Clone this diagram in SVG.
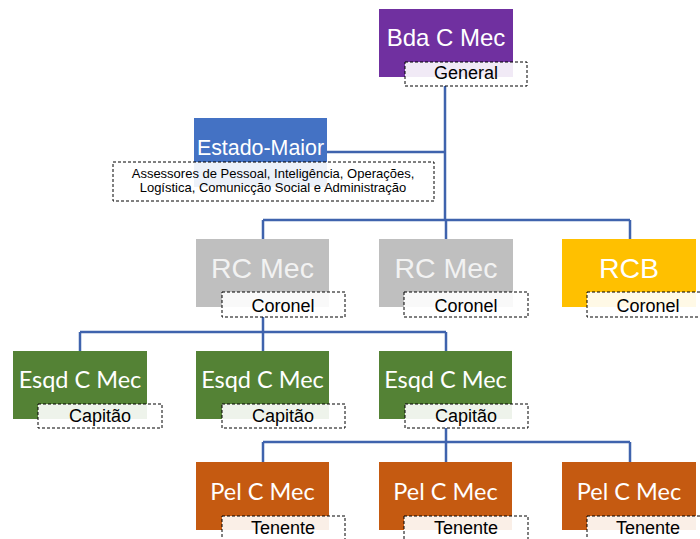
<svg xmlns="http://www.w3.org/2000/svg" width="700" height="539" viewBox="0 0 700 539">
<style>
.lbl{fill:#fff;fill-opacity:0.9;stroke:#000;stroke-width:1;stroke-dasharray:3,2}
.t{font-family:"Liberation Sans",Arial,sans-serif;text-anchor:middle}
.tw{fill:#fff}
.tl{font-family:Lato,"Liberation Sans",sans-serif;text-anchor:middle;fill:#fff;font-size:23.5px}
.lt{font-family:"Liberation Sans",Arial,sans-serif;text-anchor:middle;fill:#000;font-size:18px}
.con{stroke:#3f63ad;stroke-width:2.5;fill:none}
</style>
<rect width="700" height="539" fill="#fff"/>
<g id="connectors">
<path class="con" d="M445 86V220M327 152H445M263 220H630M263 220V240M446 220V240M630 220V240"/>
<path class="con" d="M263 317V332M80 332H446M80 332V351M263 332V351M446 332V351"/>
<path class="con" d="M446 428V442M263 442H630M263 442V462M446 442V462M630 442V462"/>
</g>
<g id="bda">
<rect x="379" y="9" width="134" height="68" fill="#7030a0"/>
<text class="t tw" x="446" y="46" font-size="24">Bda C Mec</text>
<rect class="lbl" x="405" y="62" width="122" height="24"/>
<text class="lt" x="466" y="79">General</text>
</g>
<g id="estado-maior">
<rect x="194" y="118" width="133" height="69" fill="#4472c4"/>
<text class="t tw" x="260.5" y="155" font-size="21.4">Estado-Maior</text>
<rect class="lbl" x="113" y="162" width="321" height="39"/>
<text class="t" x="273" y="178" font-size="13">Assessores de Pessoal, Inteligência, Operações,</text>
<text class="t" x="273" y="192" font-size="13">Logística, Comunicção Social e Administração</text>
</g>
<g id="rc1">
<rect x="196" y="239" width="133" height="68" fill="#bfbfbf"/>
<text class="t" fill="#f2f2f2" x="262.5" y="278" font-size="28.5">RC Mec</text>
<rect class="lbl" x="222" y="292" width="123" height="25"/>
<text class="lt" x="283" y="312">Coronel</text>
</g>
<g id="rc2">
<rect x="379" y="239" width="134" height="68" fill="#bfbfbf"/>
<text class="t" fill="#f2f2f2" x="446" y="278" font-size="28.5">RC Mec</text>
<rect class="lbl" x="404" y="292" width="124" height="25"/>
<text class="lt" x="466" y="312">Coronel</text>
</g>
<g id="rcb">
<rect x="562" y="239" width="134" height="68" fill="#ffc000"/>
<text class="t tw" x="629" y="278" font-size="28.5">RCB</text>
<rect class="lbl" x="587" y="292" width="123" height="25"/>
<text class="lt" x="648" y="312">Coronel</text>
</g>
<g id="esqd1">
<rect x="13" y="351" width="134" height="68" fill="#548235"/>
<text class="tl" x="80" y="388">Esqd C Mec</text>
<rect class="lbl" x="38" y="404" width="124" height="24"/>
<text class="lt" x="100" y="422">Capitão</text>
</g>
<g id="esqd2">
<rect x="196" y="351" width="133" height="68" fill="#548235"/>
<text class="tl" x="262.5" y="388">Esqd C Mec</text>
<rect class="lbl" x="222" y="404" width="123" height="24"/>
<text class="lt" x="283" y="422">Capitão</text>
</g>
<g id="esqd3">
<rect x="379" y="351" width="133" height="68" fill="#548235"/>
<text class="tl" x="445.5" y="388">Esqd C Mec</text>
<rect class="lbl" x="405" y="404" width="123" height="24"/>
<text class="lt" x="466" y="422">Capitão</text>
</g>
<g id="pel1">
<rect x="196" y="462" width="133" height="68" fill="#c55a11"/>
<text class="tl" x="262.5" y="500">Pel C Mec</text>
<rect class="lbl" x="222" y="516" width="123" height="30"/>
<text class="lt" x="283" y="534">Tenente</text>
</g>
<g id="pel2">
<rect x="379" y="462" width="133" height="68" fill="#c55a11"/>
<text class="tl" x="445.5" y="500">Pel C Mec</text>
<rect class="lbl" x="404" y="516" width="124" height="30"/>
<text class="lt" x="466" y="534">Tenente</text>
</g>
<g id="pel3">
<rect x="562" y="462" width="134" height="68" fill="#c55a11"/>
<text class="tl" x="629" y="500">Pel C Mec</text>
<rect class="lbl" x="587" y="516" width="123" height="30"/>
<text class="lt" x="648" y="534">Tenente</text>
</g>
</svg>
